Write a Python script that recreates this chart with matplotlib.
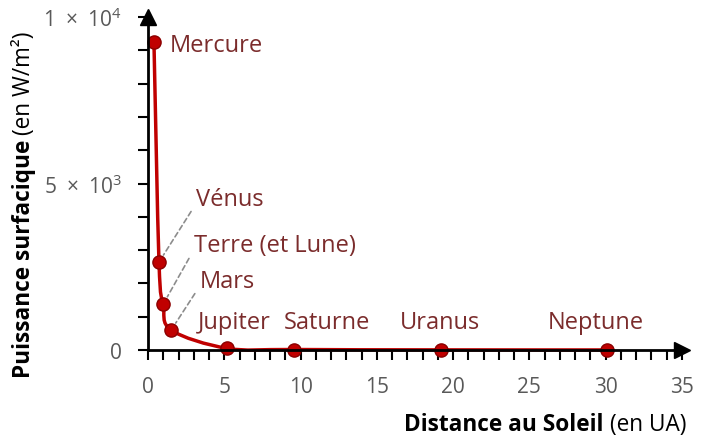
import numpy as np
import matplotlib.pyplot as plt
from matplotlib.path import Path
from matplotlib.patches import PathPatch
from matplotlib.ticker import MultipleLocator, FixedLocator

planetes = ["Mercure", "Vénus", "Terre (et Lune)", "Mars",
            "Jupiter", "Saturne", "Uranus", "Neptune"]
distance_ua = [0.39, 0.72, 1.0, 1.52, 5.2, 9.54, 19.2, 30.1]
puissance = [9250, 2640, 1380, 600, 50, 15, 3.7, 1.5]

# label anchor points (data coords)
label_x = [1.44, 3.15, 3.0, 3.4, 3.28, 8.9, 16.5, 26.2]
label_y = [9160, 4540, 3150, 2070, 840, 840, 840, 840]
leader = [False, True, True, True, False, False, False, False]

ytick_vals = [0, 5000, 10000]
ytick_labels = [r"$0$", r"$5\ \times\ 10^{3}$", r"$1\ \times\ 10^{4}$"]

plt.rcParams["font.family"] = ["Open Sans", "DejaVu Sans"]
plt.rcParams["mathtext.fontset"] = "custom"
plt.rcParams["mathtext.rm"] = "Open Sans"
plt.rcParams["mathtext.it"] = "Open Sans"
plt.rcParams["mathtext.default"] = "rm"

W, H = 701, 439
fig = plt.figure(figsize=(W / 100, H / 100), dpi=100)
ax = fig.add_axes([148 / W, (H - 351) / H, 534 / W, 333 / H])
ax.set_xlim(0, 35)
ax.set_ylim(0, 10000)

red = "#C00000"
lab_col = "#7B2C2C"

# smoothed line (Excel-like): cubic Bezier through the points, built in pixel space
pts = ax.transData.transform(np.column_stack([distance_ua, puissance]))
ext = np.vstack([pts[0], pts, pts[-1]])
verts = [pts[0]]
codes = [Path.MOVETO]
for i in range(len(pts) - 1):
    p0, p1, p2, p3 = ext[i], ext[i + 1], ext[i + 2], ext[i + 3]
    verts += [p1 + (p2 - p0) / 6, p2 - (p3 - p1) / 6, p2]
    codes += [Path.CURVE4] * 3
verts = ax.transData.inverted().transform(np.array(verts))
ax.add_patch(PathPatch(Path(verts, codes), fc="none", ec=red, lw=2.5,
                       zorder=3, clip_on=False))
ax.plot(distance_ua, puissance, "o", ms=9.5, mfc=red, mec="#8B0000",
        mew=1, zorder=4, clip_on=False)

for name, xd, yd, lx, ly, lead in zip(planetes, distance_ua, puissance,
                                      label_x, label_y, leader):
    if lead:
        ax.annotate(name, xy=(xd, yd), xytext=(lx, ly), ha="left",
                    va="center", fontsize=17, color=lab_col,
                    arrowprops=dict(arrowstyle="-", color="#8C8C8C",
                                    ls=(0, (3, 2)), lw=1.2,
                                    relpos=(0.0, 0.3), shrinkA=3, shrinkB=6))
    else:
        ax.text(lx, ly, name, ha="left", va="center", fontsize=17,
                color=lab_col)

for s in ["top", "right"]:
    ax.spines[s].set_visible(False)
for s in ["left", "bottom"]:
    ax.spines[s].set_linewidth(2)
    ax.spines[s].set_zorder(5)

ax.xaxis.set_major_locator(MultipleLocator(5))
ax.xaxis.set_minor_locator(MultipleLocator(1))
ax.yaxis.set_major_locator(FixedLocator(ytick_vals))
ax.yaxis.set_minor_locator(MultipleLocator(1000))
ax.set_yticklabels(ytick_labels)
ax.tick_params(which="both", direction="out", length=7, width=1.5,
               labelsize=15, labelcolor="#595959", color="black")
ax.tick_params(axis="x", pad=12)
ax.tick_params(axis="y", pad=12)

# axis arrow heads
ax.plot(0, 1, "^", color="black", ms=12, transform=ax.transAxes,
        clip_on=False, zorder=6)
ax.plot(1, 0, ">", color="black", ms=12, transform=ax.transAxes,
        clip_on=False, zorder=6)

fig.canvas.draw()
r = fig.canvas.get_renderer()
TS = 16.3

# axis titles: bold part + normal part
tb = fig.text(404 / W, 1 - 425 / H, "Distance au Soleil", fontsize=TS,
              fontweight="bold", ha="left", va="center")
bb = tb.get_window_extent(r)
fig.text((bb.x1 + 6) / W, 1 - 425 / H, "(en UA)", fontsize=TS,
         ha="left", va="center")

tyb = fig.text(24 / W, 1 - 378 / H, "Puissance surfacique", fontsize=TS,
               fontweight="bold", rotation=90, ha="center", va="bottom")
bb = tyb.get_window_extent(r)
fig.text(24 / W, (bb.y1 + 5) / H, "(en W/m²)", fontsize=TS,
         rotation=90, ha="center", va="bottom")

fig.savefig("out.png", dpi=100)
